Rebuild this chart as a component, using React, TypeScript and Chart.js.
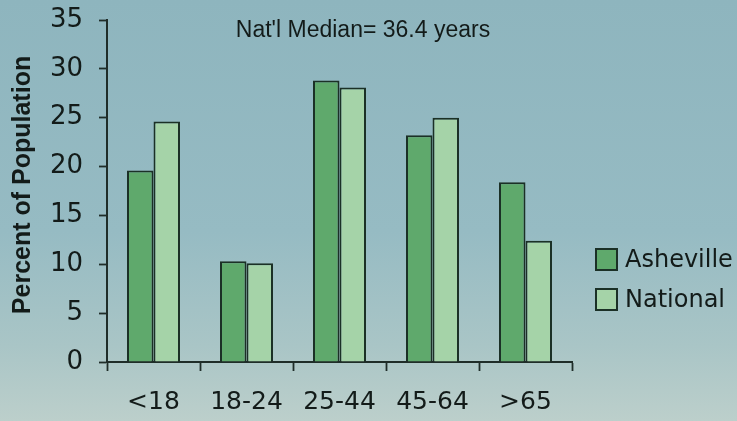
import React, { useEffect, useRef } from "react";
import { Chart, registerables } from "chart.js";

Chart.register(...registerables);

// Age distribution, percent of population
const ageGroups = ["<18", "18-24", "25-44", "45-64", ">65"];
const ashevillePct = [19.6, 10.3, 28.8, 23.2, 18.4];
const nationalPct = [24.6, 10.1, 28.1, 25.0, 12.4];
const seriesNames = ["Asheville", "National"];
const yMin = 0;
const yMax = 35;
const yStep = 5;
const medianNote = "Nat'l Median= 36.4 years";
const yAxisTitle = "Percent of Population";

const INK = "#131b19";
const AXIS = "#1f2d29";
const ASHEVILLE_FILL = "#5fa96c";
const NATIONAL_FILL = "#a5d3a8";
const BAR_EDGE = "#1b3026";
const TICK_FONT = "'DejaVu Sans', sans-serif";
const SANS = "'Liberation Sans', Arial, sans-serif";

const backdrop = {
  id: "backdrop",
  beforeDraw(chart: any) {
    const { ctx, width, height } = chart;
    const g = ctx.createLinearGradient(0, 0, 0, height);
    g.addColorStop(0, "#8eb5be");
    g.addColorStop(0.55, "#96bbc3");
    g.addColorStop(0.82, "#a9c5c6");
    g.addColorStop(1, "#bccfcb");
    ctx.save();
    ctx.fillStyle = g;
    ctx.fillRect(0, 0, width, height);
    ctx.restore();
  },
};

const annotations = {
  id: "annotations",
  afterDraw(chart: any) {
    const { ctx } = chart;
    ctx.save();
    // median note above the plot
    ctx.fillStyle = INK;
    ctx.font = `23px ${SANS}`;
    ctx.textAlign = "center";
    ctx.textBaseline = "alphabetic";
    ctx.fillText(medianNote, 363, 37);

    // vertical axis title
    ctx.save();
    ctx.translate(23, 185);
    ctx.rotate(-Math.PI / 2);
    ctx.font = `bold 25px ${SANS}`;
    ctx.textBaseline = "middle";
    ctx.fillText(yAxisTitle, 0, 0);
    ctx.restore();

    // legend
    const boxX = 596;
    const boxSize = 21;
    const rowTops = [249, 289];
    ctx.font = `24px ${TICK_FONT}`;
    ctx.textAlign = "left";
    ctx.textBaseline = "middle";
    chart.data.datasets.forEach((ds: any, i: number) => {
      const top = rowTops[i];
      ctx.fillStyle = ds.backgroundColor;
      ctx.fillRect(boxX, top, boxSize, boxSize);
      ctx.lineWidth = 2;
      ctx.strokeStyle = BAR_EDGE;
      ctx.strokeRect(boxX, top, boxSize, boxSize);
      ctx.fillStyle = INK;
      ctx.fillText(ds.label, 625, top + boxSize / 2 + 1);
    });
    ctx.restore();
  },
};

export default function App() {
  const canvasRef = useRef<HTMLCanvasElement | null>(null);

  useEffect(() => {
    if (!canvasRef.current) return;
    const chart = new Chart(canvasRef.current, {
      type: "bar",
      data: {
        labels: ageGroups,
        datasets: [
          {
            label: seriesNames[0],
            data: ashevillePct,
            backgroundColor: ASHEVILLE_FILL,
            borderColor: BAR_EDGE,
            borderWidth: 2,
            barPercentage: 1,
            categoryPercentage: 0.57,
          },
          {
            label: seriesNames[1],
            data: nationalPct,
            backgroundColor: NATIONAL_FILL,
            borderColor: BAR_EDGE,
            borderWidth: 2,
            barPercentage: 1,
            categoryPercentage: 0.57,
          },
        ],
      },
      options: {
        responsive: false,
        animation: false,
        devicePixelRatio: 1,
        layout: { padding: { top: 20, right: 165, left: 0, bottom: 0 } },
        plugins: {
          legend: { display: false },
          title: { display: false },
          tooltip: { enabled: false },
        },
        scales: {
          x: {
            grid: {
              display: true,
              drawOnChartArea: false,
              drawTicks: true,
              tickLength: 9,
              tickWidth: 1.8,
              color: AXIS,
              offset: true,
            },
            border: { display: true, color: AXIS, width: 2 },
            ticks: {
              color: INK,
              font: { family: TICK_FONT, size: 25 },
              padding: 16,
              maxRotation: 0,
            },
            afterFit(scale: any) {
              scale.height = 59;
              scale.paddingLeft = 0;
              scale.paddingRight = 0;
            },
          },
          y: {
            min: yMin,
            max: yMax,
            ticks: {
              stepSize: yStep,
              color: INK,
              font: { family: TICK_FONT, size: 26 },
              padding: 16,
            },
            grid: {
              display: true,
              drawOnChartArea: false,
              drawTicks: true,
              tickLength: 8,
              tickWidth: 1.8,
              color: AXIS,
            },
            border: { display: true, color: AXIS, width: 2 },
            title: { display: false },
            afterFit(scale: any) {
              scale.width = 107;
              scale.paddingTop = 0;
              scale.paddingBottom = 0;
            },
          },
        },
      },
      plugins: [backdrop, annotations],
    });
    return () => chart.destroy();
  }, []);

  return (
    <div style={{ position: "absolute", left: 0, top: 0, width: 737, height: 421 }}>
      <canvas ref={canvasRef} width={737} height={421} style={{ display: "block" }} />
    </div>
  );
}
